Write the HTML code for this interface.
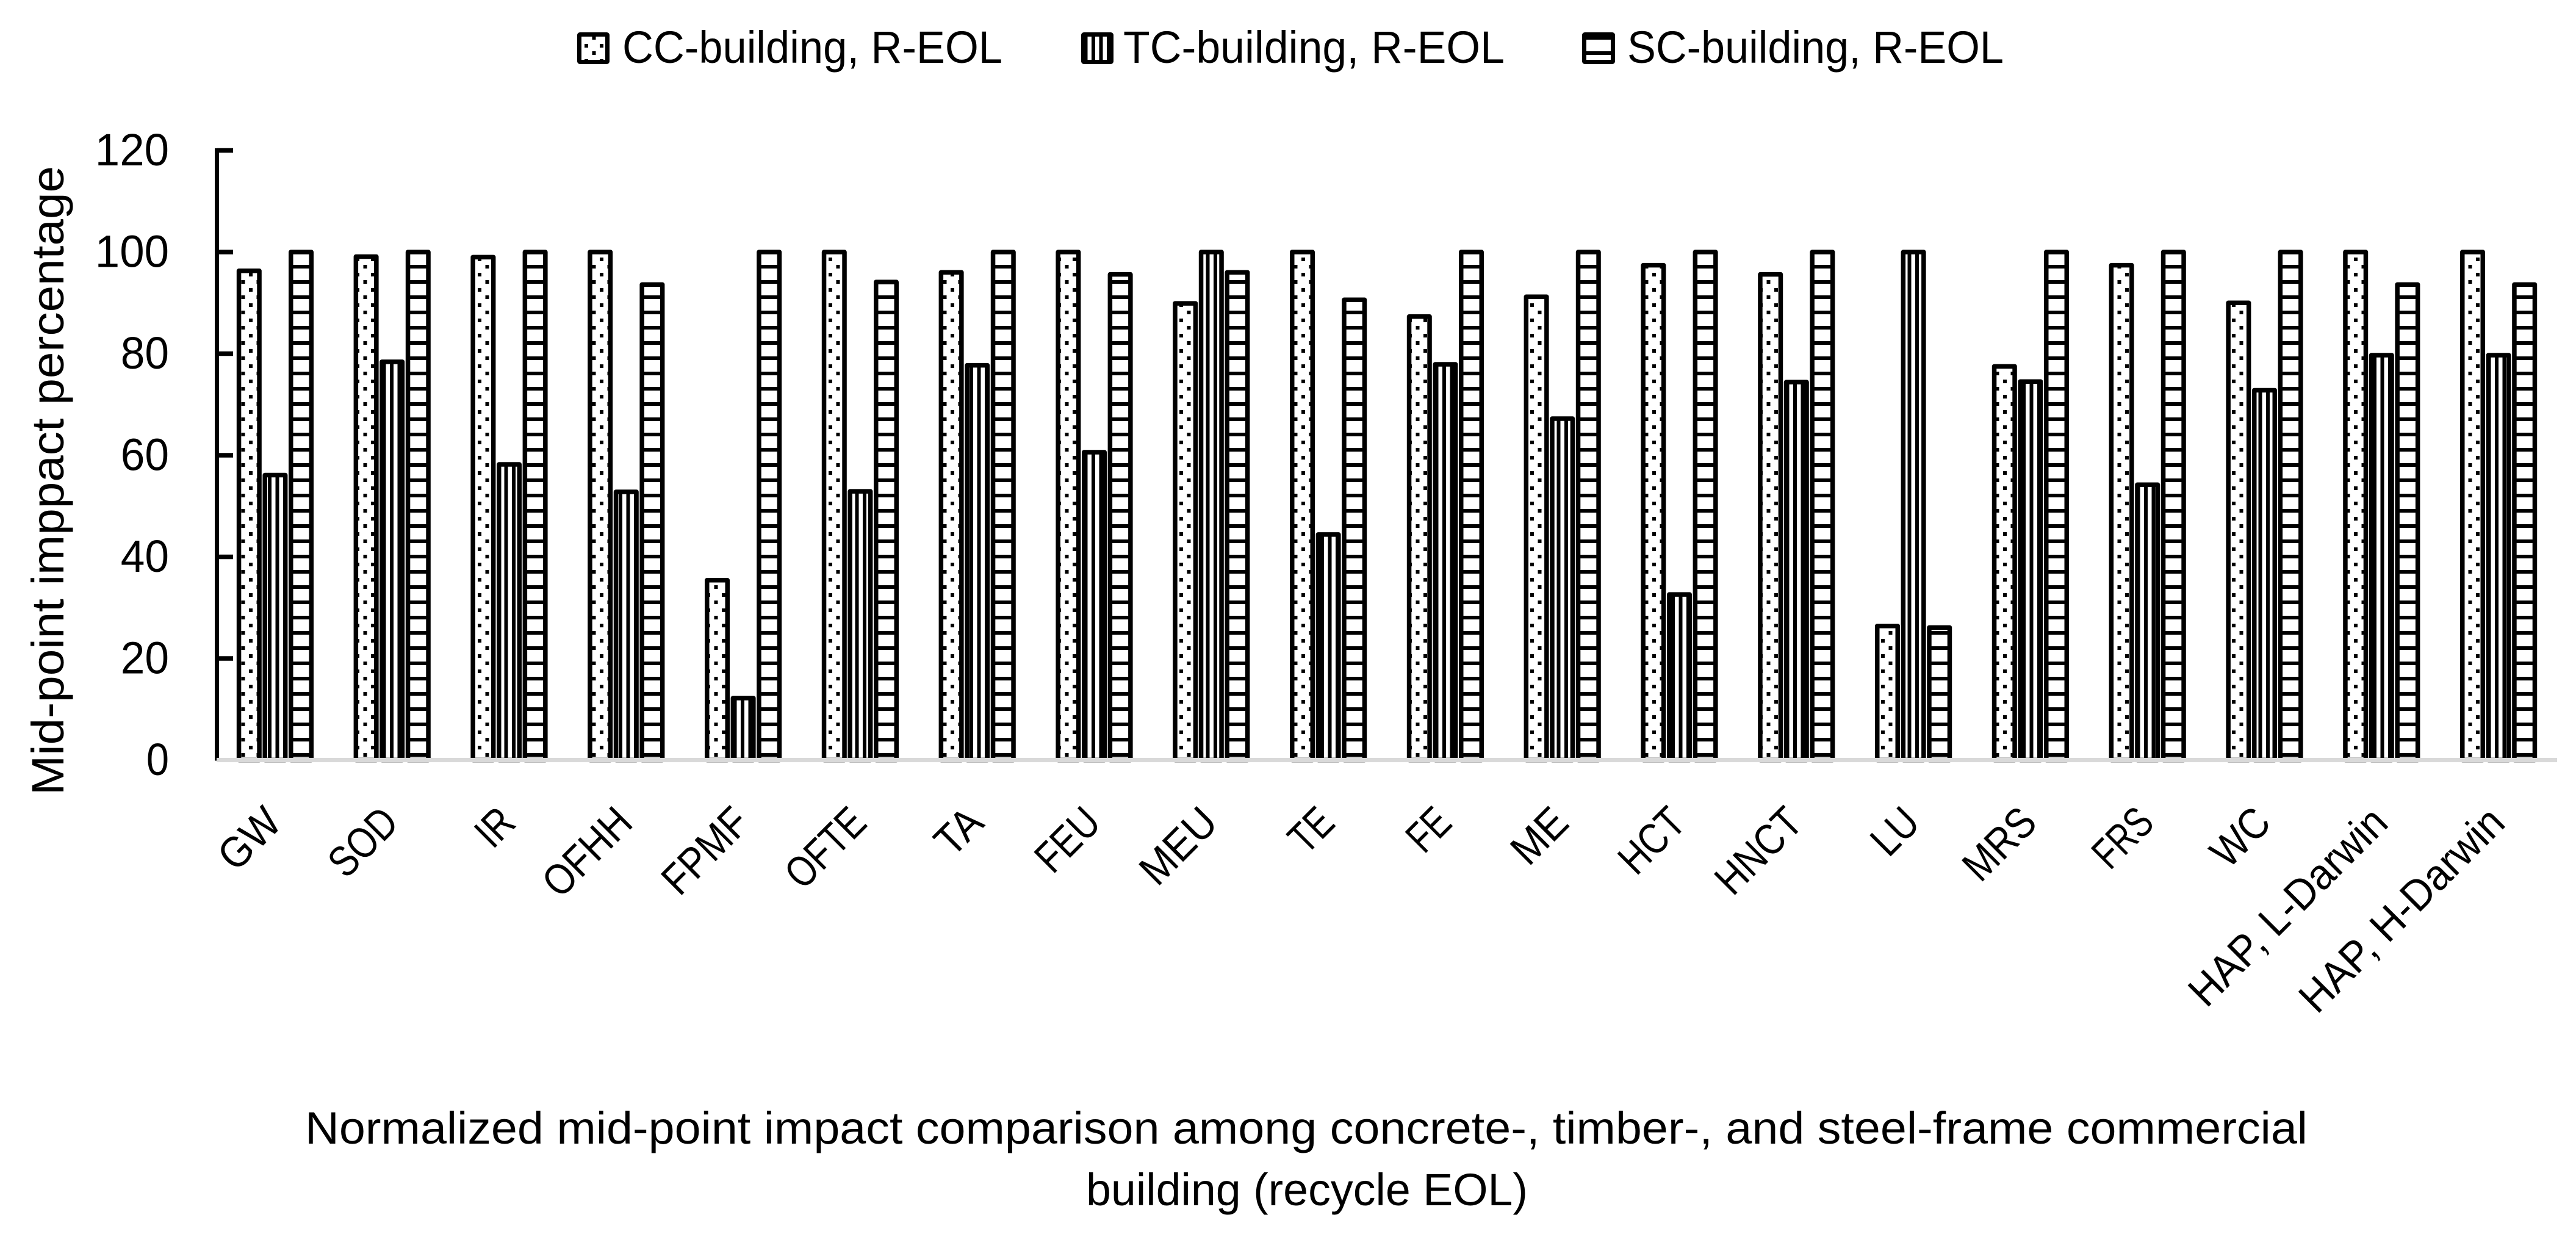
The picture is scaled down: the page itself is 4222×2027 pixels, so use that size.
<!DOCTYPE html>
<html lang="en">
<head>
<meta charset="utf-8">
<title>Normalized mid-point impact comparison</title>
<style>
html,body{margin:0;padding:0;background:#fff;}
svg{display:block;}
text{font-family:"Liberation Sans",sans-serif;font-size:74px;fill:#000;}
</style>
</head>
<body>
<svg id="chart" xmlns="http://www.w3.org/2000/svg" width="4222" height="2027" viewBox="0 0 4222 2027">
<defs>
<pattern id="pat-cc" patternUnits="userSpaceOnUse" width="25" height="25">
<rect width="25" height="25" fill="#fff"/>
<rect x="8" y="22" width="6" height="6" fill="#000"/>
<rect x="8" y="-3" width="6" height="6" fill="#000"/>
<rect x="20.5" y="9" width="6" height="6" fill="#000"/>
<rect x="-4.5" y="9" width="6" height="6" fill="#000"/>
</pattern>
<pattern id="pat-tc" patternUnits="userSpaceOnUse" width="12.5" height="25">
<rect width="12.5" height="25" fill="#fff"/>
<rect x="1.5" y="0" width="6" height="25" fill="#000"/>
</pattern>
<pattern id="pat-sc" patternUnits="userSpaceOnUse" width="25" height="25">
<rect width="25" height="25" fill="#fff"/>
<rect x="0" y="9" width="25" height="6" fill="#000"/>
</pattern>
</defs>
<rect width="4222" height="2027" fill="#fff"/>

<g>
<g>
<rect x="949.5" y="56.5" width="46" height="45" rx="1" fill="url(#pat-cc)" stroke="#000" stroke-width="7"/>
<text x="1020" y="103" textLength="623" lengthAdjust="spacingAndGlyphs">CC-building, R-EOL</text>
</g>
<g>
<rect x="1775.5" y="56.5" width="46" height="45" rx="1" fill="url(#pat-tc)" stroke="#000" stroke-width="7"/>
<text x="1841" y="103" textLength="625" lengthAdjust="spacingAndGlyphs">TC-building, R-EOL</text>
</g>
<g>
<rect x="2596.5" y="56.5" width="47" height="45" rx="1" fill="url(#pat-sc)" stroke="#000" stroke-width="7"/>
<text x="2667" y="103" textLength="617" lengthAdjust="spacingAndGlyphs">SC-building, R-EOL</text>
</g>
</g>

<text transform="translate(104 1303) rotate(-90)" x="0" y="0" textLength="1031" lengthAdjust="spacingAndGlyphs">Mid-point imppact percentage</text>

<g id="bars"></g>
<g id="y-axis"></g>
<g id="x-axis"></g>

<g>
<text x="500" y="1874" textLength="3282" lengthAdjust="spacingAndGlyphs">Normalized mid-point impact comparison among concrete-, timber-, and steel-frame commercial</text>
<text x="1780" y="1975" textLength="724" lengthAdjust="spacingAndGlyphs">building (recycle EOL)</text>
</g>
</svg>
<script>
const categories = ["GW","SOD","IR","OFHH","FPMF","OFTE","TA","FEU","MEU","TE","FE","ME","HCT","HNCT","LU","MRS","FRS","WC","HAP, L-Darwin","HAP, H-Darwin"];
const ccValues = [96.3,99.1,99,100,35.4,100,96,100,89.9,100,87.3,91.2,97.4,95.6,26.4,77.5,97.4,90,100,100];
const tcValues = [56.1,78.4,58.2,52.8,12.2,52.9,77.7,60.6,100,44.4,77.9,67.2,32.6,74.4,100,74.5,54.2,72.8,79.7,79.7];
const scValues = [100,100,100,93.6,100,94.1,100,95.6,96,90.6,100,100,100,100,26.1,100,100,100,93.6,93.6];
const yTickValues = [0,20,40,60,80,100,120];

const NS = "http://www.w3.org/2000/svg";
const plotLeft = 355, plotRight = 4191;
const yZero = 1245.5, yUnit = 8.325;
const slot = 42.6, barWidth = 33.5;
const bandWidth = (plotRight - plotLeft) / categories.length;
const yScale = function (v) { return yZero - v * yUnit; };
const xCenter = function (i) { return plotLeft + bandWidth * (i + 0.5); };

const glyphWidths = {A:.579,B:.544,C:.533,D:.615,E:.488,F:.459,G:.631,H:.623,I:.252,J:.319,K:.52,L:.42,M:.855,N:.646,O:.662,P:.517,Q:.673,R:.543,S:.459,T:.487,U:.642,V:.567,W:.89,X:.519,Y:.487,Z:.468,a:.479,b:.525,c:.423,d:.525,e:.498,f:.305,g:.471,h:.525,i:.229,j:.239,k:.455,l:.229,m:.799,n:.525,o:.527,p:.525,q:.525,r:.349,s:.391,t:.335,u:.525,v:.452,w:.715,x:.433,y:.453,z:.395," ":.226,",":.25,"-":.306};
function fitWidth(str, size) {
  let w = 0;
  for (const ch of str) { w += (ch in glyphWidths) ? glyphWidths[ch] : 0.507; }
  return w * size;
}
function make(tag, attrs, parent) {
  const el = document.createElementNS(NS, tag);
  for (const k in attrs) { el.setAttribute(k, attrs[k]); }
  parent.appendChild(el);
  return el;
}

const barsG = document.getElementById("bars");
const seriesList = [
  { key: "cc", values: ccValues, fill: "url(#pat-cc)", offset: -1 },
  { key: "tc", values: tcValues, fill: "url(#pat-tc)", offset: 0 },
  { key: "sc", values: scValues, fill: "url(#pat-sc)", offset: 1 }
];
seriesList.forEach(function (s) {
  s.values.forEach(function (v, i) {
    const top = yScale(v);
    const cx = xCenter(i) + s.offset * slot;
    const bar = make("rect", {
      x: cx - barWidth / 2, y: top, width: barWidth, height: yZero - top,
      fill: s.fill, stroke: "#000", "stroke-width": 7.5, "stroke-linejoin": "round"
    }, barsG);
    
    
  });
});

const xAxisG = document.getElementById("x-axis");
const baseline = make("line", { x1: plotLeft, x2: plotRight, y1: 1245.5, y2: 1245.5, stroke: "#d9d9d9", "stroke-width": 7 }, xAxisG);



categories.forEach(function (c, i) {
  const ax = xCenter(i) + 14, ay = 1352;
  const label = make("text", {
    x: 0, y: 0, "text-anchor": "end",
    style: "font-size:71px",
    transform: "translate(" + ax + " " + ay + ") rotate(-45)",
    textLength: fitWidth(c, 73).toFixed(1), lengthAdjust: "spacingAndGlyphs"
  }, xAxisG);
  label.textContent = c;
  
  
});

const yAxisG = document.getElementById("y-axis");
const yLine = make("line", { x1: 355.5, x2: 355.5, y1: 243, y2: 1246.5, stroke: "#000", "stroke-width": 7 }, yAxisG);



yTickValues.forEach(function (t) {
  const y = yScale(t);
  if (t > 0) {
    const tick = make("line", { x1: 355.5, x2: 382, y1: y, y2: y, stroke: "#000", "stroke-width": 7.5 }, yAxisG);
    
    
  }
  const str = String(t);
  const label = make("text", {
    x: 277, y: y + 24.5, "text-anchor": "end",
    textLength: (fitWidth(str, 83) - 5).toFixed(1), lengthAdjust: "spacingAndGlyphs"
  }, yAxisG);
  label.textContent = str;
  
  
});
</script>
</body>
</html>
